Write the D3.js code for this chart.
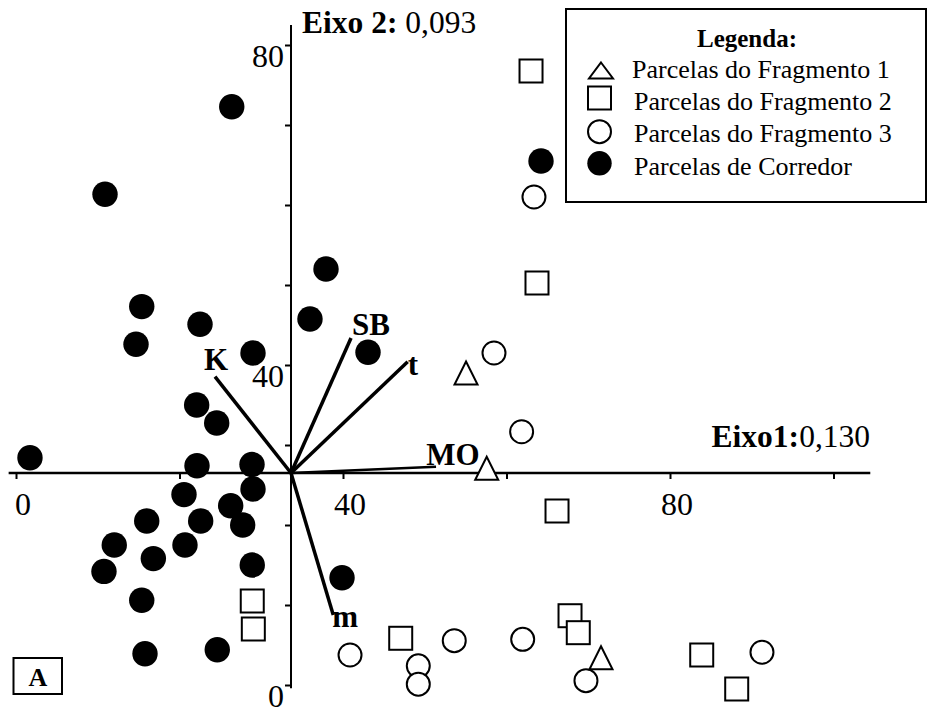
<!DOCTYPE html>
<html><head><meta charset="utf-8">
<script src="https://cdn.jsdelivr.net/npm/d3@7"></script>
<style>body{margin:0;background:#fff} svg{display:block}</style>
</head><body>
<svg id="c" width="931" height="713"></svg>
<script>
// ---- data ----
const xTickValues = [0, 20, 40, 60, 80, 100];
const xTickLabels = ["0", "", "40", "", "80", ""];
const yTickValues = [0, 10, 20, 30, 40, 50, 60, 70, 80];
const yTickLabels = ["0", "", "", "", "40", "", "", "", "80"];
const axisOrigin = [33.64, 26.5];
const xAxisExtent = [-0.9, 104.5];
const yAxisExtent = [-0.4, 82.5];

const fragmento1 = [[55.05, 39.0], [57.58, 27.1], [71.56, 3.4]];
const fragmento2 = [[63.0, 76.75], [63.73, 50.25], [66.18, 21.75], [28.9, 10.5], [29.03, 7.0],
  [47.06, 5.84], [67.77, 8.66], [68.78, 6.54], [83.88, 3.75], [88.16, -0.5]];
const fragmento3 = [[63.36, 61.0], [58.47, 41.5], [61.85, 31.66], [40.86, 3.75], [49.21, 2.4],
  [49.21, 0.1], [53.61, 5.54], [61.98, 5.71], [69.72, 0.54], [91.25, 4.09]];
const corredor = [[26.39, 72.29], [10.89, 61.34], [64.22, 65.5], [37.92, 52.0], [15.38, 47.3],
  [35.96, 45.75], [22.51, 45.1], [14.68, 42.6], [28.99, 41.5], [43.06, 41.6],
  [22.1, 35.0], [24.55, 32.75], [1.71, 28.4], [22.14, 27.4], [28.87, 27.56],
  [20.55, 23.8], [28.99, 24.5], [26.26, 22.4], [15.99, 20.5], [22.59, 20.5],
  [27.73, 20.0], [12.02, 17.5], [20.67, 17.5], [16.8, 15.8], [10.76, 14.2],
  [28.9, 15.0], [15.38, 10.6], [39.88, 13.4], [15.78, 3.9], [24.62, 4.4]];

const vectorNames = ["K", "SB", "t", "MO", "m"];
const vectorEnds = [[24.34, 38.54], [40.98, 43.38], [47.91, 40.41], [51.38, 27.29], [38.81, 8.75]];

const legendTitle = "Legenda:";
const legendLabels = ["Parcelas do Fragmento 1", "Parcelas do Fragmento 2", "Parcelas do Fragmento 3", "Parcelas de Corredor"];
const axis1Title = ["Eixo1:", "0,130"];
const axis2Title = ["Eixo 2:", " 0,093"];
const panelLabel = "A";

// ---- drawing ----
const FONT = "'Liberation Serif','Times New Roman',serif";
const svg = d3.select("#c");
svg.append("rect").attr("width", 931).attr("height", 713).attr("fill", "#fff");

const x = d3.scaleLinear().domain([0, 100]).range([16, 833.5]);
const y = d3.scaleLinear().domain([0, 80]).range([685, 45]);
const ox = x(axisOrigin[0]), oy = y(axisOrigin[1]);

// horizontal axis
const gx = svg.append("g").attr("transform", `translate(0,${oy})`)
  .call(d3.axisBottom(x).tickValues(xTickValues).tickSize(6).tickSizeOuter(0).tickFormat(""));
gx.select(".domain").remove();
gx.selectAll(".tick line").attr("stroke", "#000").attr("stroke-width", 2);
svg.append("line").attr("x1", x(xAxisExtent[0])).attr("x2", x(xAxisExtent[1]))
  .attr("y1", oy).attr("y2", oy).attr("stroke", "#000").attr("stroke-width", 2.5);
svg.selectAll(".xlab").data(xTickValues).enter().append("text")
  .attr("x", d => x(d) + 7).attr("y", oy + 42)
  .attr("text-anchor", "middle").attr("font-family", FONT).attr("font-size", 32)
  .text((d, i) => xTickLabels[i]);

// vertical axis
const gy = svg.append("g").attr("transform", `translate(${ox},0)`)
  .call(d3.axisLeft(y).tickValues(yTickValues).tickSize(6).tickSizeOuter(0).tickFormat(""));
gy.select(".domain").remove();
gy.selectAll(".tick line").attr("stroke", "#000").attr("stroke-width", 2);
svg.append("line").attr("x1", ox).attr("x2", ox)
  .attr("y1", y(yAxisExtent[0])).attr("y2", y(yAxisExtent[1])).attr("stroke", "#000").attr("stroke-width", 2);
svg.selectAll(".ylab").data(yTickValues).enter().append("text")
  .attr("x", ox - 7).attr("y", d => y(d) + 22)
  .attr("text-anchor", "end").attr("font-family", FONT).attr("font-size", 32)
  .text((d, i) => yTickLabels[i]);

// axis titles
const t1 = svg.append("text").attr("x", 870).attr("y", 447).attr("text-anchor", "end")
  .attr("font-family", FONT).attr("font-size", 31.5);
t1.append("tspan").attr("font-weight", "bold").text(axis1Title[0]);
t1.append("tspan").text(axis1Title[1]);
const t2 = svg.append("text").attr("x", 302).attr("y", 33)
  .attr("font-family", FONT).attr("font-size", 31.5);
t2.append("tspan").attr("font-weight", "bold").text(axis2Title[0]);
t2.append("tspan").text(axis2Title[1]);

// vectors
const vecOffsets = [[1, -7, "middle"], [20, -3, "middle"], [0, 13, "start"], [17, -2, "middle"], [12, 12, "middle"]];
vectorEnds.forEach((e, i) => {
  svg.append("line").attr("x1", ox).attr("y1", oy).attr("x2", x(e[0])).attr("y2", y(e[1]))
    .attr("stroke", "#000").attr("stroke-width", vectorNames[i] === "MO" ? 2.6 : 3.5);
  svg.append("text").attr("x", x(e[0]) + vecOffsets[i][0]).attr("y", y(e[1]) + vecOffsets[i][1])
    .attr("text-anchor", vecOffsets[i][2]).attr("font-family", FONT).attr("font-size", 31)
    .attr("font-weight", "bold").text(vectorNames[i]);
});

// symbols
const triPath = (w, h) => `M0,${-h / 2}L${w / 2},${h / 2}L${-w / 2},${h / 2}Z`;
function drawTri(g, cx, cy, w, h) {
  g.append("path").attr("d", triPath(w, h)).attr("transform", `translate(${cx},${cy})`)
    .attr("fill", "#fff").attr("stroke", "#000").attr("stroke-width", 2);
}
function drawSq(g, cx, cy, s) {
  g.append("rect").attr("x", cx - s / 2).attr("y", cy - s / 2).attr("width", s).attr("height", s)
    .attr("fill", "#fff").attr("stroke", "#000").attr("stroke-width", 2);
}
function drawOc(g, cx, cy, r) {
  g.append("circle").attr("cx", cx).attr("cy", cy).attr("r", r)
    .attr("fill", "#fff").attr("stroke", "#000").attr("stroke-width", 2);
}
function drawFc(g, cx, cy, r) {
  g.append("circle").attr("cx", cx).attr("cy", cy).attr("r", r).attr("fill", "#000");
}
const pts = svg.append("g");
corredor.forEach(d => drawFc(pts, x(d[0]), y(d[1]), 12.7));
fragmento2.forEach(d => drawSq(pts, x(d[0]), y(d[1]), 23));
fragmento3.forEach(d => drawOc(pts, x(d[0]), y(d[1]), 11.5));
fragmento1.forEach(d => drawTri(pts, x(d[0]), y(d[1]), 23, 23));

// legend
const lg = svg.append("g");
lg.append("rect").attr("x", 566).attr("y", 9).attr("width", 360).attr("height", 193)
  .attr("fill", "#fff").attr("stroke", "#000").attr("stroke-width", 2);
lg.append("text").attr("x", 747).attr("y", 47).attr("text-anchor", "middle")
  .attr("font-family", FONT).attr("font-size", 25).attr("font-weight", "bold").text(legendTitle);
const rowY = [78, 110, 142, 175];
drawTri(lg, 601, 70.5, 24, 16);
drawSq(lg, 599.5, 98, 23);
drawOc(lg, 599.5, 131.7, 11.5);
drawFc(lg, 599.5, 163.3, 12.2);
legendLabels.forEach((t, i) => {
  lg.append("text").attr("x", i === 0 ? 632 : 634).attr("y", rowY[i])
    .attr("font-family", FONT).attr("font-size", 26).text(t);
});

// panel label
svg.append("rect").attr("x", 13.5).attr("y", 658).attr("width", 48.5).attr("height", 36)
  .attr("fill", "#fff").attr("stroke", "#000").attr("stroke-width", 2);
svg.append("text").attr("x", 38).attr("y", 686).attr("text-anchor", "middle")
  .attr("font-family", FONT).attr("font-size", 26).attr("font-weight", "bold").text(panelLabel);
</script>
</body></html>
